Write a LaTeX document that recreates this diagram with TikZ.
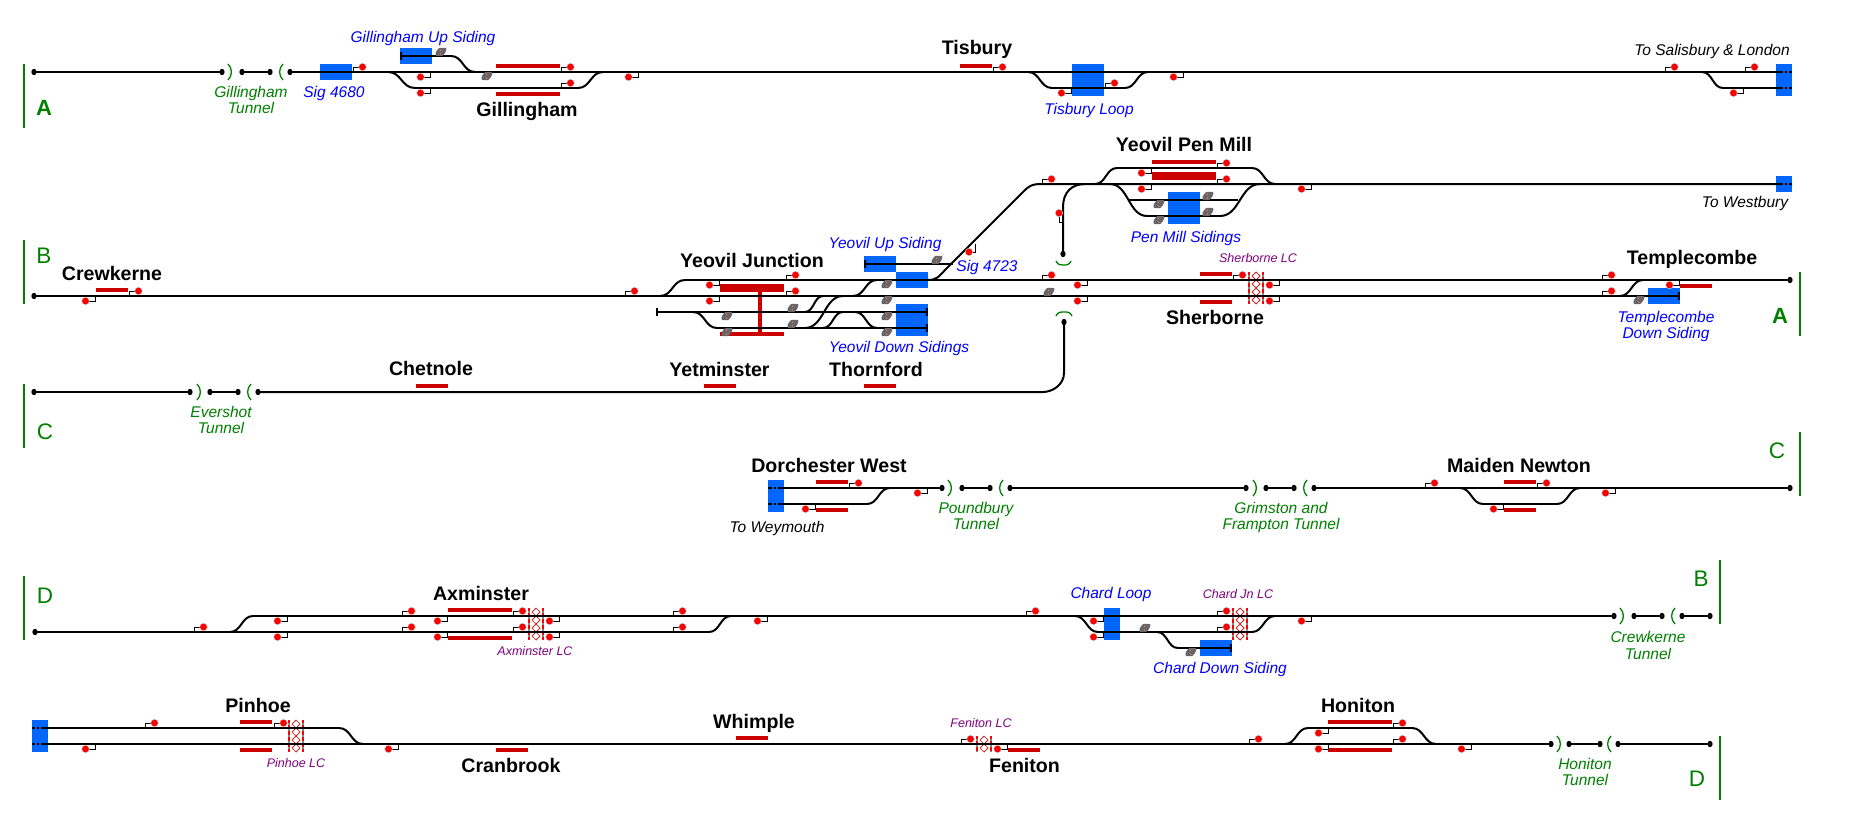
\documentclass[tikz,border=0pt]{standalone}
\usepackage{fontspec}
\setmainfont{Liberation Sans}
\definecolor{bl}{HTML}{0066FF}
\definecolor{plat}{HTML}{CC0000}
\definecolor{txb}{HTML}{0000FF}
\definecolor{txg}{HTML}{008000}
\definecolor{txp}{HTML}{800080}
\definecolor{gsig}{HTML}{666666}
\definecolor{gpink}{HTML}{FF6666}
\tikzset{
 trk/.style={line width=2pt,black},
 stem/.style={line width=0.9pt,black},
 lab/.style={inner sep=0pt,outer sep=0pt,anchor=center,text depth=0pt},
 stn/.style={lab,text height=14pt,font=\fontsize{19.6}{20}\selectfont\bfseries,black},
 sid/.style={lab,text height=11pt,font=\fontsize{15.5}{16}\selectfont\itshape,txb},
 tun/.style={lab,text height=11pt,font=\fontsize{15.5}{16}\selectfont\itshape,txg},
 dest/.style={lab,text height=11pt,font=\fontsize{15.5}{16}\selectfont\itshape,black},
 lcx/.style={lab,text height=9pt,font=\fontsize{12.5}{13}\selectfont\itshape,txp},
 letb/.style={lab,text height=16pt,font=\fontsize{22}{22}\selectfont\bfseries,txg},
 letr/.style={lab,text height=16pt,font=\fontsize{22.5}{22}\selectfont,txg},
 grn/.style={line width=1.8pt,txg},
 tnl/.style={line width=1.3pt,txg},
}
% S-bend from (x1,y1) to (x2,y2)
\newcommand\sbnd[4]{\draw[trk] (#1,#2) .. controls ({(#1+#3)/2},#2) and ({(#1+#3)/2},#4) .. (#3,#4);}
% loop: sbend, straight, sbend
\newcommand\lpp[6]{\sbnd{#1}{#5}{#2}{#6}\draw[trk] (#2,#6) -- (#3,#6);\sbnd{#3}{#6}{#4}{#5}}
\newcommand\seg[3]{\draw[trk] (#1,#3) -- (#2,#3);}
% segment with dots at both ends
\newcommand\tdot[2]{\fill[black] (#1,#2) ellipse (2.6 and 3.2);}
\newcommand\dseg[3]{\draw[trk] (#1,#3) -- (#2,#3);\tdot{#1}{#3}\tdot{#2}{#3}}
\newcommand\tbar[2]{\draw[line width=1.3pt] (#1,#2-4) -- (#1,#2+4);}
\newcommand\sigdot[2]{\fill[black!18] (#1,#2) circle (4.1);\fill[red] (#1,#2) circle (3.4);}
\newcommand\sigU[2]{\draw[stem] (#1,#2) -- (#1,#2-5) -- (#1+7,#2-5);\sigdot{#1+9.5}{#2-5}}
\newcommand\sigD[2]{\draw[stem] (#1,#2) -- (#1,#2+5) -- (#1-7,#2+5);\sigdot{#1-9.5}{#2+5}}
\newcommand\gry[2]{\fill[gsig,rounded corners=1pt] (#1-5.5,#2+4.2) -- (#1-5.5,#2+0.5) -- (#1-2,#2-4.2) -- (#1+5.5,#2-4.2) -- (#1+5,#2-0.5) -- (#1+1.5,#2+4.2) -- cycle;
 \fill[gpink] (#1-0.5,#2-1.8) circle (0.9);\fill[gpink] (#1-0.5,#2+2) circle (0.9);}
\newcommand\pl[3]{\fill[plat] (#1,#3) rectangle (#2,#3+4);}
\newcommand\bx[4]{\fill[bl] (#1,#3) rectangle (#2,#4);}
\newcommand\brk[2]{\fill[bl] (#1-0.7,#2-1.5) rectangle (#1+0.7,#2+1.5);}
\newcommand\tunR[2]{\draw[tnl] (#1-2,#2-8) .. controls (#1+2.5,#2-4) and (#1+2.5,#2+4) .. (#1-2,#2+8);}
\newcommand\tunL[2]{\draw[tnl] (#1+2,#2-8) .. controls (#1-2.5,#2-4) and (#1-2.5,#2+4) .. (#1+2,#2+8);}
% level crossing: left x, right x, top y, bottom y, list of diamond y
\newcommand\lc[5]{%
 \foreach \yy in {#5}{\draw[red!85!black,line width=0.7pt,fill=white] ({(#1+#2)/2-4},\yy) -- ({(#1+#2)/2},\yy-4) -- ({(#1+#2)/2+4},\yy) -- ({(#1+#2)/2},\yy+4) -- cycle;}
 \draw[red,line width=1.3pt] (#1,#3) -- (#1,#4);\draw[red,line width=1.3pt] (#2,#3) -- (#2,#4);
 \draw[black!45,line width=1.3pt,dash pattern=on 2pt off 4pt,dash phase=-3pt] (#1,#3) -- (#1,#4);\draw[black!45,line width=1.3pt,dash pattern=on 2pt off 4pt,dash phase=-3pt] (#2,#3) -- (#2,#4);}
\newcommand\lb[5]{\node[#2] (#1) at (#3,#4) {#5};}
\begin{document}
\begin{tikzpicture}[x=1pt,y=-1pt]
\useasboundingbox (0,0) rectangle (1863,816);
\fill[white] (0,0) rectangle (1863,816);

% ---- blue boxes
\bx{320}{352}{64}{80}\bx{400}{432}{48}{64}\bx{1072}{1104}{64}{96}\bx{1776}{1792}{64}{96}
\bx{1776}{1792}{176}{192}\bx{864}{896}{256}{272}\bx{896}{928}{272}{288}\bx{896}{928}{304}{336}
\bx{1168}{1200}{192}{224}\bx{1648}{1680}{288}{304}
\bx{768}{784}{480}{512}\bx{1104}{1120}{608}{640}\bx{1200}{1232}{640}{656}\bx{32}{48}{720}{752}

% ---- platforms
\pl{496}{560}{64}\pl{496}{560}{92}\pl{960}{992}{64}
\pl{96}{128}{288}\pl{416}{448}{384}\pl{704}{736}{384}\pl{864}{896}{384}
\fill[plat] (720,284) rectangle (784,292);\fill[plat] (720,332) rectangle (784,336);\fill[plat] (758,292) rectangle (762,332);
\pl{1152}{1216}{160}\fill[plat] (1152,172) rectangle (1216,180);
\pl{1200}{1232}{272}\pl{1200}{1232}{300}\pl{1680}{1712}{284}
\pl{816}{848}{480}\pl{816}{848}{508}\pl{1504}{1536}{480}\pl{1504}{1536}{508}
\pl{448}{512}{608}\pl{448}{512}{636}
\pl{240}{272}{720}\pl{240}{272}{748}\pl{496}{528}{748}\pl{736}{768}{736}
\pl{1008}{1040}{748}\pl{1328}{1392}{720}\pl{1328}{1392}{748}

% ---- level crossings
\lc{1249}{1263}{272}{304}{276,284,292,300}
\lc{529}{543}{608}{640}{612,620,628,636}
\lc{1233}{1247}{608}{640}{612,620,628,636}
\lc{289}{303}{720}{752}{724,732,740,748}
\lc{977}{991}{736}{752}{740,748}

% ---- row A
\dseg{34}{222}{72}\dseg{242}{270}{72}
\seg{290}{1792}{72}\tdot{290}{72}
\lpp{388}{415}{578}{603}{72}{88}
\seg{401}{451}{56}\sbnd{451}{56}{475}{72}\tbar{401}{56}
\lpp{1028}{1052}{1125}{1148}{72}{88}
\sbnd{1702}{72}{1723}{88}\seg{1723}{1792}{88}
\tunR{230}{72}\tunL{281}{72}
\brk{1784}{72}\brk{1788}{72}\brk{1784}{88}\brk{1788}{88}

% ---- row B / Yeovil
\seg{34}{1679}{296}\tdot{34}{296}\tbar{1679}{296}
\sbnd{660}{296}{685}{280}\seg{685}{1790}{280}\tdot{1790}{280}
\seg{657}{927}{312}\tbar{657}{312}\tbar{927}{312}
\sbnd{693}{312}{717}{328}\seg{717}{927}{328}\tbar{927}{328}
\sbnd{805}{312}{823}{296}\sbnd{805}{328}{843}{296}\sbnd{823}{328}{843}{312}
\sbnd{855}{312}{877}{328}\sbnd{853}{296}{877}{280}
\seg{865}{953}{264}\tbar{865}{264}
\draw[trk] (928,280) .. controls (938,280) and (940,275) .. (945,270) -- (1025,190) .. controls (1029,186) and (1033,184) .. (1040,184) -- (1792,184);
\brk{1784}{184}\brk{1788}{184}
\draw[trk] (1063,254) -- (1063,207) .. controls (1063,192) and (1072,184) .. (1085,184);\tdot{1063}{254}
\draw[trk] (258,392) -- (1043,392) .. controls (1052,392) and (1064,385) .. (1064,373) -- (1064,322);\tdot{1064}{322}
\draw[tnl] (1056,261) .. controls (1058,265) and (1060,265) .. (1063,265) .. controls (1067,265) and (1069,265) .. (1071,261);
\draw[tnl] (1056,316) .. controls (1058,312) and (1060,312) .. (1064,312) .. controls (1068,312) and (1070,312) .. (1072,316);
\lpp{1095}{1117}{1252}{1275}{184}{168}
\sbnd{1110}{184}{1147}{216}\seg{1147}{1220}{216}\sbnd{1220}{216}{1260}{184}
\seg{1128}{1238}{200}
\sbnd{1620}{296}{1643}{280}

% ---- row C
\dseg{34}{190}{392}\dseg{210}{238}{392}\tdot{258}{392}
\tunR{199}{392}\tunL{249}{392}
\seg{768}{942}{488}\tdot{942}{488}\seg{768}{867}{504}\sbnd{867}{504}{890}{488}
\brk{773}{488}\brk{777}{488}\brk{773}{504}\brk{777}{504}
\dseg{962}{990}{488}\dseg{1010}{1246}{488}\dseg{1266}{1294}{488}\dseg{1314}{1790}{488}
\tunR{950}{488}\tunL{1001}{488}\tunR{1255}{488}\tunL{1305}{488}
\lpp{1460}{1483}{1557}{1580}{488}{504}

% ---- row D
\seg{35}{709}{632}\tdot{35}{632}\sbnd{230}{632}{253}{616}\seg{253}{1614}{616}\tdot{1614}{616}
\sbnd{709}{632}{731}{616}
\sbnd{1075}{616}{1098}{632}\seg{1098}{1252}{632}\sbnd{1252}{632}{1275}{616}
\sbnd{1157}{632}{1178}{648}\seg{1178}{1231}{648}\tbar{1231}{648}
\dseg{1634}{1662}{616}\dseg{1682}{1710}{616}
\tunR{1622}{616}\tunL{1673}{616}

% ---- row E
\seg{32}{339}{728}\sbnd{339}{728}{363}{744}\seg{32}{1551}{744}\tdot{1551}{744}
\brk{36}{728}\brk{40}{728}\brk{36}{744}\brk{40}{744}
\lpp{1285}{1308}{1412}{1436}{744}{728}
\dseg{1569}{1600}{744}\dseg{1618}{1710}{744}
\tunR{1559}{744}\tunL{1609}{744}

% ---- signals
\sigU{353}{72}\sigD{430}{72}\sigD{430}{88}\sigU{561}{72}\sigU{561}{88}\sigD{638}{72}
\sigU{993}{72}\sigD{1071}{88}\sigU{1105}{88}\sigD{1183}{72}
\sigU{1665}{72}\sigU{1745}{72}\sigD{1743}{88}
\sigU{129}{296}\sigD{95}{296}\sigU{625}{296}\sigD{719}{280}\sigD{719}{296}\sigU{786}{280}\sigU{786}{296}
\draw[stem] (975,244) -- (975,252) -- (972,252);\sigdot{969}{252}
\sigU{1042}{280}\sigD{1087}{280}\sigD{1087}{296}
\sigU{1042}{184}\sigD{1151}{168}\sigD{1151}{184}\sigU{1217}{168}\sigU{1217}{184}\sigD{1311}{184}
\draw[stem] (1063,222) -- (1059,222) -- (1059,216);\sigdot{1059}{213}
\sigU{1233}{280}\sigD{1279}{280}\sigD{1279}{296}
\sigU{1602}{280}\sigU{1602}{296}\sigD{1679}{280}
\sigU{849}{488}\sigD{815}{504}\sigD{927}{488}
\sigU{1425}{488}\sigD{1503}{504}\sigU{1537}{488}\sigD{1615}{488}
\sigU{194}{632}\sigD{287}{616}\sigD{287}{632}\sigU{402}{616}\sigU{402}{632}\sigD{447}{616}\sigD{447}{632}
\sigU{513}{616}\sigU{513}{632}\sigD{559}{616}\sigD{559}{632}\sigU{673}{616}\sigU{673}{632}\sigD{767}{616}
\sigU{1026}{616}\sigD{1103}{616}\sigD{1103}{632}\sigU{1217}{616}\sigU{1217}{632}\sigD{1311}{616}
\sigU{145}{728}\sigD{95}{744}\sigU{274}{728}\sigD{398}{744}
\sigU{961}{744}\sigD{1007}{744}\sigU{1249}{744}\sigD{1328}{728}\sigD{1328}{744}\sigU{1393}{728}\sigU{1393}{744}\sigD{1471}{744}

% ---- shunt signals
\gry{441}{52}\gry{487}{76}
\gry{727}{316}\gry{727}{332}\gry{793}{308}\gry{793}{324}\gry{887}{284}\gry{887}{300}\gry{887}{316}\gry{887}{332}\gry{937}{260}\gry{1049}{292}
\gry{1208}{196}\gry{1208}{212}\gry{1159}{204}\gry{1159}{220}\gry{1639}{300}\gry{1145}{628}\gry{1191}{652}

% ---- bars and letters
\draw[grn] (24,64) -- (24,128);\draw[grn] (24,240) -- (24,304);\draw[grn] (24,384) -- (24,448);\draw[grn] (24,576) -- (24,640);
\draw[grn] (1800,272) -- (1800,336);\draw[grn] (1800,432) -- (1800,496);\draw[grn] (1720,560) -- (1720,624);\draw[grn] (1720,736) -- (1720,800);
\lb{la}{letb}{44}{107}{A}\lb{lb}{letr}{44}{255}{B}\lb{lc}{letr}{45}{431}{C}\lb{ld}{letr}{45}{595}{D}
\lb{ra}{letb}{1780}{315}{A}\lb{rc}{letr}{1777}{450}{C}\lb{rb}{letr}{1701}{578}{B}\lb{rd}{letr}{1697}{778}{D}

% ---- station names
\lb{s1}{stn}{527}{109}{Gillingham}
\lb{s2}{stn}{977}{48}{Tisbury}
\lb{s3}{stn}{112}{273}{Crewkerne}
\lb{s4}{stn}{752}{260}{Yeovil Junction}
\lb{s5}{stn}{1184}{144}{Yeovil Pen Mill}
\lb{s6}{stn}{1215}{317}{Sherborne}
\lb{s7}{stn}{1692}{257}{Templecombe}
\lb{s8}{stn}{431}{368}{Chetnole}
\lb{s9}{stn}{719.5}{369}{Yetminster}
\lb{s10}{stn}{876}{369}{Thornford}
\lb{s11}{stn}{829}{465}{Dorchester West}
\lb{s12}{stn}{1519}{465}{Maiden Newton}
\lb{s13}{stn}{481}{593}{Axminster}
\lb{s14}{stn}{258}{705}{Pinhoe}
\lb{s15}{stn}{511}{765}{Cranbrook}
\lb{s16}{stn}{754}{721}{Whimple}
\lb{s17}{stn}{1024.5}{765}{Feniton}
\lb{s18}{stn}{1358}{705}{Honiton}

% ---- sidings
\lb{d1}{sid}{423}{37}{Gillingham Up Siding}
\lb{d2}{sid}{334}{92}{Sig 4680}
\lb{d3}{sid}{1089}{109}{Tisbury Loop}
\lb{d4}{sid}{885}{243}{Yeovil Up Siding}
\lb{d5}{sid}{987}{266}{Sig 4723}
\lb{d6}{sid}{899}{347}{Yeovil Down Sidings}
\lb{d7}{sid}{1186}{237}{Pen Mill Sidings}
\lb{d8}{sid}{1666}{317}{Templecombe}
\lb{d9}{sid}{1666}{333}{Down Siding}
\lb{d10}{sid}{1111}{593}{Chard Loop}
\lb{d11}{sid}{1220}{668}{Chard Down Siding}

% ---- tunnels
\lb{t1}{tun}{251}{92}{Gillingham}\lb{t2}{tun}{251}{108}{Tunnel}
\lb{t3}{tun}{221}{412}{Evershot}\lb{t4}{tun}{221}{428}{Tunnel}
\lb{t5}{tun}{976}{508}{Poundbury}\lb{t6}{tun}{976}{524}{Tunnel}
\lb{t7}{tun}{1281}{508}{Grimston and}\lb{t8}{tun}{1281}{524}{Frampton Tunnel}
\lb{t9}{tun}{1648}{637}{Crewkerne}\lb{t10}{tun}{1648}{654}{Tunnel}
\lb{t11}{tun}{1585}{764}{Honiton}\lb{t12}{tun}{1585}{780}{Tunnel}

% ---- destinations
\lb{x1}{dest}{1712}{50}{To Salisbury \& London}
\lb{x2}{dest}{1745}{202}{To Westbury}
\lb{x3}{dest}{777}{527}{To Weymouth}

% ---- level crossing names
\lb{c1}{lcx}{1258}{258}{Sherborne LC}
\lb{c2}{lcx}{535}{651}{Axminster LC}
\lb{c3}{lcx}{1238}{594}{Chard Jn LC}
\lb{c4}{lcx}{296}{763}{Pinhoe LC}
\lb{c5}{lcx}{981}{723}{Feniton LC}
\end{tikzpicture}
\end{document}
